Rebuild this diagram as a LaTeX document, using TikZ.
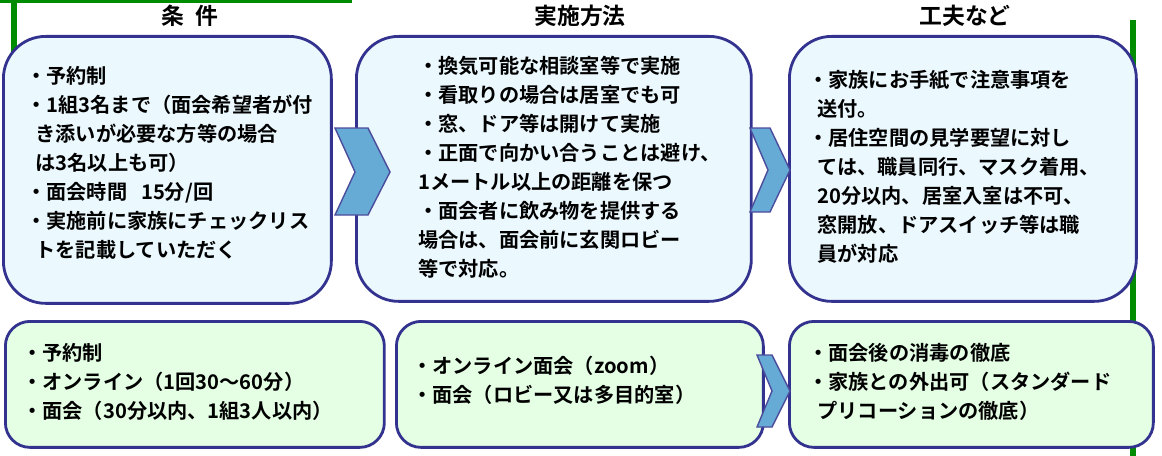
\documentclass[tikz,border=0pt]{standalone}
\usepackage{fontspec}
\newfontfamily\jp{Noto Sans CJK JP}[BoldFont={* Bold}]
\usetikzlibrary{positioning}

\tikzset{
  box/.style={draw=blue!45!black!80, line width=1.6pt, anchor=north west, inner sep=0pt},
  topbox/.style={box, fill=cyan!8, rounded corners=24pt},
  lowbox/.style={box, fill=green!10, rounded corners=14pt},
  txt/.style={anchor=north west, inner sep=0pt, align=left,
    font=\jp\bfseries\fontsize{11.5pt}{16.5pt}\selectfont},
  head/.style={font=\jp\bfseries\fontsize{13pt}{15pt}\selectfont},
  chev/.style={fill=blue!50!black!55!cyan!60, draw=blue!45!black!70, line width=0.8pt}
}

\begin{document}
\begin{tikzpicture}[x=0.02cm, y=-0.02cm]
\useasboundingbox (0,0) rectangle (1162,456);
% green frame
\draw[green!55!black, line width=2.5pt] (0,1) -- (352,1);
\draw[green!55!black, line width=3pt] (14,0) -- (14,60);
\draw[green!55!black, line width=3pt] (1133,20) -- (1133,456);

% headings
\node[head] (h1) at (190,16) {条\ \ 件};
\node[head] (h2) at (580,16) {実施方法};
\node[head] (h3) at (965,16) {工夫など};

% top row
\node[topbox, minimum width=6.56cm, minimum height=5.34cm] (t1) at (2,35) {};
\node[topbox, minimum width=7.9cm, minimum height=5.3cm] (t2) at (355,35) {};
\node[topbox, minimum width=6.94cm, minimum height=5.3cm] (t3) at (788,35) {};
% bottom row
\node[lowbox, minimum width=7.58cm, minimum height=2.52cm] (b1) at (4,320) {};
\node[lowbox, minimum width=7.34cm, minimum height=2.52cm] (b2) at (395,320) {};
\node[lowbox, minimum width=7.28cm, minimum height=2.52cm] (b3) at (788,320) {};

% chevrons
\path[chev] (335,128) -- (368,128) -- (390,172) -- (368,215) -- (335,215) -- (355,172) -- cycle;
\path[chev] (750,128) -- (770,128) -- (790,170) -- (770,212) -- (750,212) -- (768,170) -- cycle;
\path[chev] (757,355) -- (772,355) -- (790,391) -- (772,427) -- (757,427) -- (772,391) -- cycle;

% texts
\node[txt] (t1txt) at (26,66) {・予約制\\・1組3名まで（面会希望者が付\\\ \ き添いが必要な方等の場合\\\ \ は3名以上も可）\\・面会時間\ \ \ 15分/回\\・実施前に家族にチェックリス\\\ \ トを記載していただく};
\node[txt] (t2txt) at (418,56) {・換気可能な相談室等で実施\\・看取りの場合は居室でも可\\・窓、ドア等は開けて実施\\・正面で向かい合うことは避け、\\1メートル以上の距離を保つ\\・面会者に飲み物を提供する\\場合は、面会前に玄関ロビー\\等で対応。};
\node[txt] (t3txt) at (808,70) {・家族にお手紙で注意事項を\\\ \ 送付。\\・居住空間の見学要望に対し\\\ \ ては、職員同行、マスク着用、\\\ \ 20分以内、居室入室は不可、\\\ \ 窓開放、ドアスイッチ等は職\\\ \ 員が対応};
\node[txt] (b1txt) at (22,343) {・予約制\\・オンライン（1回30～60分）\\・面会（30分以内、1組3人以内）};
\node[txt] (b2txt) at (412,356) {・オンライン面会（zoom）\\・面会（ロビー又は多目的室）};
\node[txt] (b3txt) at (808,343) {・面会後の消毒の徹底\\・家族との外出可（スタンダード\\\ \ プリコーションの徹底）};
\end{tikzpicture}
\end{document}
